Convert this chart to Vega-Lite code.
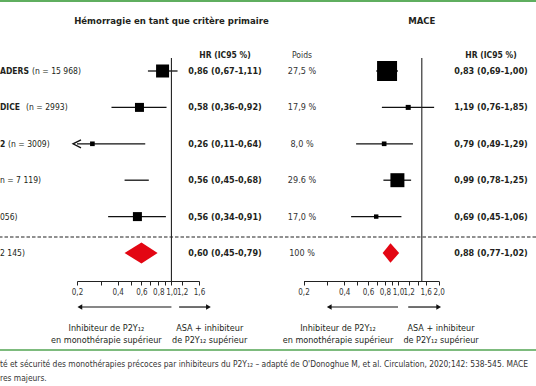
{
  "$schema": "https://vega.github.io/schema/vega-lite/v6.json",
  "width": 536,
  "height": 386,
  "autosize": "none",
  "padding": 0,
  "background": "white",
  "config": {
    "view": {"stroke": null},
    "font": "Liberation Sans Narrow, DejaVu Sans Condensed, Roboto, sans-serif",
    "text": {"color": "#231f20", "fontSize": 9, "baseline": "middle"}
  },
  "datasets": {
    "rows": [
      {"row": 1, "name": "ADERS", "n": "(n = 15 968)", "hrL": 0.86, "loL": 0.67, "hiL": 1.11, "wL": 14.1, "poids": "27,5 %", "hrR": 0.83, "loR": 0.69, "hiR": 1.0, "wR": 33.3, "total": false},
      {"row": 2, "name": "DICE", "n": "(n = 2993)", "hrL": 0.58, "loL": 0.36, "hiL": 0.92, "wL": 6.75, "poids": "17,9 %", "hrR": 1.19, "loR": 0.76, "hiR": 1.85, "wR": 2.1, "total": false},
      {"row": 3, "name": "2", "n": "(n = 3009)", "hrL": 0.26, "loL": 0.11, "hiL": 0.64, "wL": 1.8, "poids": "8,0 %", "hrR": 0.79, "loR": 0.49, "hiR": 1.29, "wR": 1.8, "total": false},
      {"row": 4, "name": "", "n": "n = 7 119)", "hrL": 0.56, "loL": 0.45, "hiL": 0.68, "wL": null, "poids": "29.6 %", "hrR": 0.99, "loR": 0.78, "hiR": 1.25, "wR": 16.3, "total": false},
      {"row": 5, "name": "", "n": "056)", "hrL": 0.56, "loL": 0.34, "hiL": 0.91, "wL": 6.75, "poids": "17,0 %", "hrR": 0.69, "loR": 0.45, "hiR": 1.06, "wR": 1.6, "total": false},
      {"row": 6, "name": "", "n": "2 145)", "hrL": 0.60, "loL": 0.45, "hiL": 0.79, "wL": null, "poids": "100 %", "hrR": 0.88, "loR": 0.77, "hiR": 1.02, "wR": null, "total": true}
    ]
  },
  "resolve": {"scale": {"x": "independent"}, "axis": {"x": "independent"}},
  "layer": [
    {
      "data": {"name": "rows"},
      "layer": [
        {
          "transform": [{"filter": "!datum.total"}, {"calculate": "max(datum.loL, 0.2)", "as": "loP"}],
          "mark": {"type": "rule", "color": "#111111", "strokeWidth": 1.3},
          "encoding": {
            "x": {"field": "loP", "type": "quantitative",
              "scale": {"type": "log", "domain": [0.2, 1.6], "range": [77, 199], "nice": false},
              "axis": {"orient": "bottom", "offset": -105, "title": null, "grid": false,
                "values": [0.2, 0.3, 0.4, 0.5, 0.6, 0.7, 0.8, 0.9, 1, 1.2, 1.6],
                "labelExpr": "indexof([0.2,0.4,0.6,0.8,1,1.2,1.6], datum.value) >= 0 ? replace(format(datum.value,'.1f'),'.',',') : ''",
                "domainColor": "#222222", "tickColor": "#222222", "tickSize": 4, "tickWidth": 1, "domainWidth": 1,
                "labelFontSize": 8, "labelColor": "#333333", "labelPadding": 3, "labelOverlap": false, "labelFlush": false, "labelBound": false}},
            "x2": {"field": "hiL"},
            "y": {"field": "row", "type": "quantitative", "scale": {"domain": [-0.9505, 9.654], "reverse": true, "nice": false, "zero": false}, "axis": null}
          }
        },
        {
          "transform": [{"filter": "!datum.total && isValid(datum.wL)"}],
          "mark": {"type": "point", "shape": "square", "filled": true, "color": "#000000", "opacity": 1},
          "encoding": {
            "x": {"field": "hrL", "type": "quantitative"},
            "y": {"field": "row", "type": "quantitative", "scale": {"domain": [-0.9505, 9.654], "reverse": true, "nice": false, "zero": false}, "axis": null},
            "size": {"field": "wL", "type": "quantitative", "scale": {"type": "linear", "domain": [0, 40], "range": [0, 480], "zero": true}, "legend": null}
          }
        },
        {
          "transform": [{"filter": "!datum.total && datum.loL < 0.2"}, {"calculate": "max(datum.loL, 0.2)", "as": "loP"}],
          "mark": {"type": "point", "shape": "M1,-1L-1,0L1,1", "filled": false, "stroke": "#111111", "strokeWidth": 1.3, "size": 64, "opacity": 1},
          "encoding": {
            "x": {"field": "loP", "type": "quantitative"},
            "y": {"field": "row", "type": "quantitative", "scale": {"domain": [-0.9505, 9.654], "reverse": true, "nice": false, "zero": false}, "axis": null}
          }
        },
        {
          "transform": [{"filter": "datum.total"}, {"fold": ["loL", "hrL", "hiL"], "as": ["k", "v"]}, {"calculate": "datum.k == 'hrL' ? 0.29 : 0", "as": "h"}, {"calculate": "datum.row - datum.h", "as": "ya"}, {"calculate": "datum.row + datum.h", "as": "yb"}],
          "mark": {"type": "area", "color": "#e30613", "opacity": 1},
          "encoding": {
            "x": {"field": "v", "type": "quantitative"},
            "y": {"field": "ya", "type": "quantitative", "scale": {"domain": [-0.9505, 9.654], "reverse": true, "nice": false, "zero": false}, "axis": null},
            "y2": {"field": "yb"}
          }
        },
        {
          "data": {"values": [{}]},
          "mark": {"type": "rule", "color": "#222222", "strokeWidth": 1.1},
          "encoding": {
            "x": {"datum": 1, "type": "quantitative"},
            "y": {"datum": 0.643, "type": "quantitative", "scale": {"domain": [-0.9505, 9.654], "reverse": true, "nice": false, "zero": false}, "axis": null},
            "y2": {"datum": 6.769}
          }
        },
        {
          "data": {"values": [{}]},
          "mark": {"type": "text", "text": "Hémorragie en tant que critère primaire", "fontWeight": "bold", "fontSize": 9.5, "align": "center"},
          "encoding": {
            "x": {"datum": 1, "type": "quantitative"},
            "y": {"datum": -0.374, "type": "quantitative", "scale": {"domain": [-0.9505, 9.654], "reverse": true, "nice": false, "zero": false}, "axis": null}
          }
        },
        {
          "data": {"values": [{}]},
          "mark": {"type": "rule", "color": "#111111", "strokeWidth": 1.2},
          "encoding": {
            "x": {"datum": 0.21, "type": "quantitative"},
            "x2": {"datum": 1},
            "y": {"datum": 7.484, "type": "quantitative", "scale": {"domain": [-0.9505, 9.654], "reverse": true, "nice": false, "zero": false}, "axis": null}
          }
        },
        {
          "data": {"values": [{}]},
          "mark": {"type": "point", "shape": "triangle-left", "filled": true, "color": "#111111", "size": 30, "opacity": 1},
          "encoding": {
            "x": {"datum": 0.21, "type": "quantitative"},
            "y": {"datum": 7.484, "type": "quantitative", "scale": {"domain": [-0.9505, 9.654], "reverse": true, "nice": false, "zero": false}, "axis": null}
          }
        },
        {
          "data": {"values": [{}]},
          "mark": {"type": "rule", "color": "#111111", "strokeWidth": 1.2},
          "encoding": {
            "x": {"datum": 1.14, "type": "quantitative"},
            "x2": {"datum": 1.88},
            "y": {"datum": 7.484, "type": "quantitative", "scale": {"domain": [-0.9505, 9.654], "reverse": true, "nice": false, "zero": false}, "axis": null}
          }
        },
        {
          "data": {"values": [{}]},
          "mark": {"type": "point", "shape": "triangle-right", "filled": true, "color": "#111111", "size": 30, "opacity": 1},
          "encoding": {
            "x": {"datum": 1.88, "type": "quantitative"},
            "y": {"datum": 7.484, "type": "quantitative", "scale": {"domain": [-0.9505, 9.654], "reverse": true, "nice": false, "zero": false}, "axis": null}
          }
        },
        {
          "data": {"values": [{}]},
          "mark": {"type": "text", "text": ["Inhibiteur de P2Y₁₂", "en monothérapie supérieur"], "align": "center", "lineHeight": 12, "fontSize": 9},
          "encoding": {
            "x": {"datum": 0.33, "type": "quantitative"},
            "y": {"datum": 8.06, "type": "quantitative", "scale": {"domain": [-0.9505, 9.654], "reverse": true, "nice": false, "zero": false}, "axis": null}
          }
        },
        {
          "data": {"values": [{}]},
          "mark": {"type": "text", "text": ["ASA + inhibiteur", "de P2Y₁₂ supérieur"], "align": "center", "lineHeight": 12, "fontSize": 9},
          "encoding": {
            "x": {"datum": 1.92, "type": "quantitative"},
            "y": {"datum": 8.06, "type": "quantitative", "scale": {"domain": [-0.9505, 9.654], "reverse": true, "nice": false, "zero": false}, "axis": null}
          }
        }
      ]
    },
    {
      "data": {"name": "rows"},
      "layer": [
        {
          "transform": [{"filter": "!datum.total"}],
          "mark": {"type": "rule", "color": "#111111", "strokeWidth": 1.3},
          "encoding": {
            "x": {"field": "loR", "type": "quantitative",
              "scale": {"type": "log", "domain": [0.2, 2.0], "range": [303.5, 438.7], "nice": false},
              "axis": {"orient": "bottom", "offset": -105, "title": null, "grid": false,
                "values": [0.2, 0.3, 0.4, 0.5, 0.6, 0.7, 0.8, 0.9, 1, 1.2, 1.4, 1.6, 2],
                "labelExpr": "indexof([0.2,0.4,0.6,0.8,1,1.2,1.6,2], datum.value) >= 0 ? replace(format(datum.value,'.1f'),'.',',') : ''",
                "domainColor": "#222222", "tickColor": "#222222", "tickSize": 4, "tickWidth": 1, "domainWidth": 1,
                "labelFontSize": 8, "labelColor": "#333333", "labelPadding": 3, "labelOverlap": false, "labelFlush": false, "labelBound": false}},
            "x2": {"field": "hiR"},
            "y": {"field": "row", "type": "quantitative", "scale": {"domain": [-0.9505, 9.654], "reverse": true, "nice": false, "zero": false}, "axis": null}
          }
        },
        {
          "transform": [{"filter": "!datum.total && isValid(datum.wR)"}],
          "mark": {"type": "point", "shape": "square", "filled": true, "color": "#000000", "opacity": 1},
          "encoding": {
            "x": {"field": "hrR", "type": "quantitative"},
            "y": {"field": "row", "type": "quantitative", "scale": {"domain": [-0.9505, 9.654], "reverse": true, "nice": false, "zero": false}, "axis": null},
            "size": {"field": "wR", "type": "quantitative", "scale": {"type": "linear", "domain": [0, 40], "range": [0, 480], "zero": true}, "legend": null}
          }
        },
        {
          "transform": [{"filter": "datum.total"}, {"fold": ["loR", "hrR", "hiR"], "as": ["k", "v"]}, {"calculate": "datum.k == 'hrR' ? 0.27 : 0", "as": "h"}, {"calculate": "datum.row - datum.h", "as": "ya"}, {"calculate": "datum.row + datum.h", "as": "yb"}],
          "mark": {"type": "area", "color": "#e30613", "opacity": 1},
          "encoding": {
            "x": {"field": "v", "type": "quantitative"},
            "y": {"field": "ya", "type": "quantitative", "scale": {"domain": [-0.9505, 9.654], "reverse": true, "nice": false, "zero": false}, "axis": null},
            "y2": {"field": "yb"}
          }
        },
        {
          "data": {"values": [{}]},
          "mark": {"type": "rule", "color": "#222222", "strokeWidth": 1.1},
          "encoding": {
            "x": {"datum": 1.5, "type": "quantitative"},
            "y": {"datum": 0.643, "type": "quantitative", "scale": {"domain": [-0.9505, 9.654], "reverse": true, "nice": false, "zero": false}, "axis": null},
            "y2": {"datum": 6.769}
          }
        },
        {
          "data": {"values": [{}]},
          "mark": {"type": "text", "text": "MACE", "fontWeight": "bold", "fontSize": 9.5, "align": "center"},
          "encoding": {
            "x": {"datum": 1.5, "type": "quantitative"},
            "y": {"datum": -0.374, "type": "quantitative", "scale": {"domain": [-0.9505, 9.654], "reverse": true, "nice": false, "zero": false}, "axis": null}
          }
        },
        {
          "data": {"values": [{}]},
          "mark": {"type": "rule", "color": "#111111", "strokeWidth": 1.2},
          "encoding": {
            "x": {"datum": 0.31, "type": "quantitative"},
            "x2": {"datum": 1},
            "y": {"datum": 7.484, "type": "quantitative", "scale": {"domain": [-0.9505, 9.654], "reverse": true, "nice": false, "zero": false}, "axis": null}
          }
        },
        {
          "data": {"values": [{}]},
          "mark": {"type": "point", "shape": "triangle-left", "filled": true, "color": "#111111", "size": 30, "opacity": 1},
          "encoding": {
            "x": {"datum": 0.31, "type": "quantitative"},
            "y": {"datum": 7.484, "type": "quantitative", "scale": {"domain": [-0.9505, 9.654], "reverse": true, "nice": false, "zero": false}, "axis": null}
          }
        },
        {
          "data": {"values": [{}]},
          "mark": {"type": "rule", "color": "#111111", "strokeWidth": 1.2},
          "encoding": {
            "x": {"datum": 1.19, "type": "quantitative"},
            "x2": {"datum": 2.0},
            "y": {"datum": 7.484, "type": "quantitative", "scale": {"domain": [-0.9505, 9.654], "reverse": true, "nice": false, "zero": false}, "axis": null}
          }
        },
        {
          "data": {"values": [{}]},
          "mark": {"type": "point", "shape": "triangle-right", "filled": true, "color": "#111111", "size": 30, "opacity": 1},
          "encoding": {
            "x": {"datum": 2.0, "type": "quantitative"},
            "y": {"datum": 7.484, "type": "quantitative", "scale": {"domain": [-0.9505, 9.654], "reverse": true, "nice": false, "zero": false}, "axis": null}
          }
        },
        {
          "data": {"values": [{}]},
          "mark": {"type": "text", "text": ["Inhibiteur de P2Y₁₂", "en monothérapie supérieur"], "align": "center", "lineHeight": 12, "fontSize": 9},
          "encoding": {
            "x": {"datum": 0.36, "type": "quantitative"},
            "y": {"datum": 8.06, "type": "quantitative", "scale": {"domain": [-0.9505, 9.654], "reverse": true, "nice": false, "zero": false}, "axis": null}
          }
        },
        {
          "data": {"values": [{}]},
          "mark": {"type": "text", "text": ["ASA + inhibiteur", "de P2Y₁₂ supérieur"], "align": "center", "lineHeight": 12, "fontSize": 9},
          "encoding": {
            "x": {"datum": 2.08, "type": "quantitative"},
            "y": {"datum": 8.06, "type": "quantitative", "scale": {"domain": [-0.9505, 9.654], "reverse": true, "nice": false, "zero": false}, "axis": null}
          }
        }
      ]
    },
    {
      "data": {"name": "rows"},
      "layer": [
        {
          "mark": {"type": "text", "align": "left", "fontWeight": "bold", "fontSize": 8.5},
          "encoding": {
            "x": {"datum": 0, "type": "quantitative", "scale": {"type": "linear", "domain": [0, 10], "range": [0, 60], "nice": false, "zero": false}, "axis": null},
            "y": {"field": "row", "type": "quantitative", "scale": {"domain": [-0.9505, 9.654], "reverse": true, "nice": false, "zero": false}, "axis": null},
            "text": {"field": "name"}
          }
        },
        {
          "transform": [{"calculate": "datum.name == '' ? 0 : length(datum.name) + 0.35", "as": "off"}],
          "mark": {"type": "text", "align": "left", "fontSize": 8.5},
          "encoding": {
            "x": {"field": "off", "type": "quantitative"},
            "y": {"field": "row", "type": "quantitative", "scale": {"domain": [-0.9505, 9.654], "reverse": true, "nice": false, "zero": false}, "axis": null},
            "text": {"field": "n"}
          }
        },
        {
          "data": {"values": [{}]},
          "mark": {"type": "text", "align": "left", "fontSize": 8.4, "color": "#333333", "text": "té et sécurité des monothérapies précoces par inhibiteurs du P2Y₁₂ – adapté de O'Donoghue M, et al. Circulation, 2020;142: 538-545. MACE"},
          "encoding": {
            "x": {"datum": 0, "type": "quantitative"},
            "y": {"datum": 9.05, "type": "quantitative", "scale": {"domain": [-0.9505, 9.654], "reverse": true, "nice": false, "zero": false}, "axis": null}
          }
        },
        {
          "data": {"values": [{}]},
          "mark": {"type": "text", "align": "left", "fontSize": 8.4, "color": "#333333", "text": "res majeurs."},
          "encoding": {
            "x": {"datum": 0, "type": "quantitative"},
            "y": {"datum": 9.434, "type": "quantitative", "scale": {"domain": [-0.9505, 9.654], "reverse": true, "nice": false, "zero": false}, "axis": null}
          }
        }
      ]
    },
    {
      "data": {"name": "rows"},
      "layer": [
        {
          "transform": [{"calculate": "replace(format(datum.hrL,'.2f'),'.',',') + ' (' + replace(format(datum.loL,'.2f'),'.',',') + '-' + replace(format(datum.hiL,'.2f'),'.',',') + ')'", "as": "t"}],
          "mark": {"type": "text", "align": "center", "fontWeight": "bold"},
          "encoding": {
            "x": {"datum": "HR (IC95 %)", "type": "nominal", "scale": {"type": "point", "domain": ["HR (IC95 %)"], "range": [225, 225]}, "axis": null},
            "y": {"field": "row", "type": "quantitative", "scale": {"domain": [-0.9505, 9.654], "reverse": true, "nice": false, "zero": false}, "axis": null},
            "text": {"field": "t"}
          }
        },
        {
          "data": {"values": [{}]},
          "mark": {"type": "text", "align": "center", "fontWeight": "bold", "fontSize": 8.5, "text": "HR (IC95 %)"},
          "encoding": {
            "x": {"datum": "HR (IC95 %)", "type": "nominal"},
            "y": {"datum": 0.56, "type": "quantitative", "scale": {"domain": [-0.9505, 9.654], "reverse": true, "nice": false, "zero": false}, "axis": null}
          }
        }
      ]
    },
    {
      "data": {"name": "rows"},
      "layer": [
        {
          "mark": {"type": "text", "align": "center", "color": "#333333"},
          "encoding": {
            "x": {"datum": "Poids", "type": "nominal", "scale": {"type": "point", "domain": ["Poids"], "range": [302, 302]}, "axis": null},
            "y": {"field": "row", "type": "quantitative", "scale": {"domain": [-0.9505, 9.654], "reverse": true, "nice": false, "zero": false}, "axis": null},
            "text": {"field": "poids"}
          }
        },
        {
          "data": {"values": [{}]},
          "mark": {"type": "text", "align": "center", "fontSize": 8.5, "color": "#333333", "text": "Poids"},
          "encoding": {
            "x": {"datum": "Poids", "type": "nominal"},
            "y": {"datum": 0.56, "type": "quantitative", "scale": {"domain": [-0.9505, 9.654], "reverse": true, "nice": false, "zero": false}, "axis": null}
          }
        }
      ]
    },
    {
      "data": {"name": "rows"},
      "layer": [
        {
          "transform": [{"calculate": "replace(format(datum.hrR,'.2f'),'.',',') + ' (' + replace(format(datum.loR,'.2f'),'.',',') + '-' + replace(format(datum.hiR,'.2f'),'.',',') + ')'", "as": "t"}],
          "mark": {"type": "text", "align": "center", "fontWeight": "bold"},
          "encoding": {
            "x": {"datum": "HR (IC95 %)", "type": "nominal", "scale": {"type": "point", "domain": ["HR (IC95 %)"], "range": [491, 491]}, "axis": null},
            "y": {"field": "row", "type": "quantitative", "scale": {"domain": [-0.9505, 9.654], "reverse": true, "nice": false, "zero": false}, "axis": null},
            "text": {"field": "t"}
          }
        },
        {
          "data": {"values": [{}]},
          "mark": {"type": "text", "align": "center", "fontWeight": "bold", "fontSize": 8.5, "text": "HR (IC95 %)"},
          "encoding": {
            "x": {"datum": "HR (IC95 %)", "type": "nominal"},
            "y": {"datum": 0.56, "type": "quantitative", "scale": {"domain": [-0.9505, 9.654], "reverse": true, "nice": false, "zero": false}, "axis": null}
          }
        }
      ]
    },
    {
      "data": {"values": [{}]},
      "layer": [
        {
          "mark": {"type": "rule", "color": "#222222", "strokeWidth": 1.2, "strokeDash": [3.5, 2]},
          "encoding": {
            "y": {"datum": 5.56, "type": "quantitative", "scale": {"domain": [-0.9505, 9.654], "reverse": true, "nice": false, "zero": false}, "axis": null}
          }
        },
        {
          "mark": {"type": "rule", "color": "#5fae5f", "strokeWidth": 2},
          "encoding": {
            "y": {"datum": -0.923, "type": "quantitative", "scale": {"domain": [-0.9505, 9.654], "reverse": true, "nice": false, "zero": false}, "axis": null}
          }
        },
        {
          "mark": {"type": "rule", "color": "#7dbb7d", "strokeWidth": 2},
          "encoding": {
            "y": {"datum": 8.665, "type": "quantitative", "scale": {"domain": [-0.9505, 9.654], "reverse": true, "nice": false, "zero": false}, "axis": null}
          }
        }
      ]
    }
  ]
}
